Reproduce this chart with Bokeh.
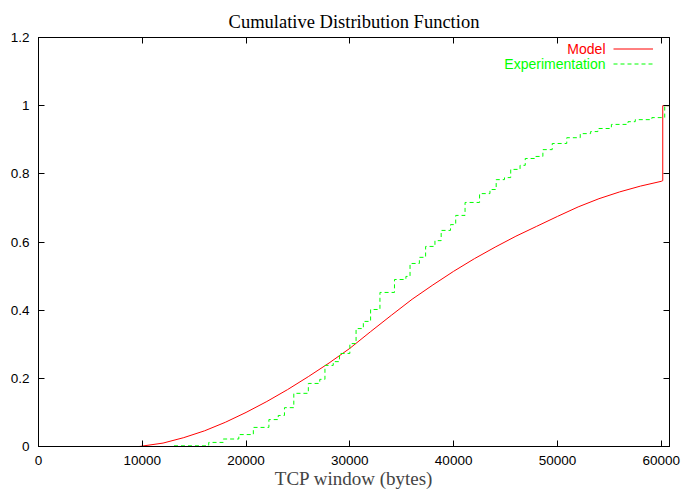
from bokeh.plotting import figure
from bokeh.models import (Range1d, LinearAxis, FixedTicker, Legend, LegendItem, Label)
from bokeh.embed import file_html
from bokeh.resources import INLINE

# ---- data ----
model_x = [3000, 9700, 12000, 14000, 16000, 18000, 20000, 22000, 24000, 26000,
           28000, 30000, 32000, 34000, 36000, 38000, 40000, 42000, 44000, 46000,
           48000, 50000, 52000, 54000, 56000, 58000, 60000, 60150, 60150, 60800]
model_y = [0, 0, 0.010, 0.026, 0.046, 0.071, 0.100, 0.132, 0.167, 0.205,
           0.245, 0.288, 0.337, 0.385, 0.432, 0.474, 0.514, 0.551, 0.585, 0.617,
           0.646, 0.675, 0.703, 0.727, 0.747, 0.764, 0.778, 0.780, 1.0, 1.0]

exp_x = [3000, 13000, 16400, 17800, 19300, 20700, 22200, 23100, 23700, 24600,
         26000, 27100, 27600, 28400, 29000, 30000, 30600, 31300, 32000, 32900,
         34300, 35400, 35800, 36700, 37300, 38200, 38800, 39700, 40200, 41100,
         42500, 43500, 44100, 44900, 45500, 46400, 46900, 47900, 48600, 49500,
         50900, 52200, 53200, 53900, 55200, 56800, 57500, 59100, 60340, 60800]
exp_y = [0, 0.002, 0.012, 0.022, 0.035, 0.056, 0.079, 0.091, 0.114, 0.156,
         0.185, 0.197, 0.238, 0.249, 0.273, 0.302, 0.346, 0.367, 0.402, 0.452,
         0.490, 0.499, 0.537, 0.555, 0.587, 0.604, 0.634, 0.651, 0.678, 0.716,
         0.742, 0.754, 0.783, 0.789, 0.813, 0.825, 0.845, 0.851, 0.871, 0.889,
         0.906, 0.918, 0.924, 0.933, 0.945, 0.953, 0.959, 0.965, 1.0, 1.0]

x_ticks = [0, 10000, 20000, 30000, 40000, 50000, 60000]
x_tick_labels = ["0", "10000", "20000", "30000", "40000", "50000", "60000"]
y_ticks = [0, 0.2, 0.4, 0.6, 0.8, 1.0, 1.2]
y_tick_labels = ["0", "0.2", "0.4", "0.6", "0.8", "1", "1.2"]

title_text = "Cumulative Distribution Function"
x_label = "TCP window (bytes)"
series_names = ["Model", "Experimentation"]

SANS = "Liberation Sans"
SERIF = "Liberation Serif"
RED = "#ff0000"
GREEN = "#00ff00"

p = figure(frame_width=631, frame_height=409, output_backend="svg",
           toolbar_location=None, x_range=Range1d(0, 60800), y_range=Range1d(0, 1.2),
           min_border_left=38, min_border_right=15, min_border_top=37, min_border_bottom=49)
p.grid.visible = False
p.outline_line_color = "black"
p.background_fill_color = "white"
p.border_fill_color = "white"

p.title.text = title_text
p.title.align = "center"
p.title.vertical_align = "middle"
p.title.text_font = SERIF
p.title.text_font_style = "normal"
p.title.text_font_size = "18.5px"
p.title.text_color = "black"
p.title.standoff = 10
p.title.offset = 0


def style_axis(ax, ticks, labels, show_labels=True):
    ax.ticker = FixedTicker(ticks=ticks)
    ax.major_tick_in = 6
    ax.major_tick_out = 0
    ax.minor_tick_in = 0
    ax.minor_tick_out = 0
    ax.axis_line_color = "black"
    ax.major_tick_line_color = "black"
    ax.major_label_text_font = SANS
    ax.major_label_text_font_size = "13.5px"
    ax.major_label_text_color = "black"
    if show_labels:
        ax.major_label_overrides = {t: l for t, l in zip(ticks, labels)}
    else:
        ax.major_label_overrides = {t: "" for t in ticks}
        ax.major_label_standoff = 0


style_axis(p.xaxis[0], x_ticks, x_tick_labels)
style_axis(p.yaxis[0], y_ticks, y_tick_labels)
p.xaxis[0].major_label_standoff = 9
p.yaxis[0].major_label_standoff = 9
p.xaxis[0].axis_label = x_label
p.xaxis[0].axis_label_text_font = SERIF
p.xaxis[0].axis_label_text_font_style = "normal"
p.xaxis[0].axis_label_text_font_size = "19px"
p.xaxis[0].axis_label_standoff = 0

top_ax = LinearAxis()
style_axis(top_ax, x_ticks, x_tick_labels, show_labels=False)
p.add_layout(top_ax, "above")
right_ax = LinearAxis()
style_axis(right_ax, y_ticks, y_tick_labels, show_labels=False)
p.add_layout(right_ax, "right")

r_model = p.line(model_x, model_y, line_color=RED, line_width=1)
r_exp = p.step(exp_x, exp_y, mode="after", line_color=GREEN, line_width=1,
               line_dash="4 3")

# legend samples (gnuplot style: text on the left, sample on the right)
legend = Legend(items=[LegendItem(label=series_names[0], renderers=[r_model]),
                       LegendItem(label=series_names[1], renderers=[r_exp])],
                location=(575, 375), orientation="vertical",
                glyph_width=40, glyph_height=15, label_width=0, label_standoff=0,
                label_text_font_size="1px", label_text_alpha=0,
                spacing=0, padding=0, margin=0,
                border_line_color=None, background_fill_alpha=0)
p.add_layout(legend)

p.add_layout(Label(x=567, y=398, x_units="screen", y_units="screen", text=series_names[0],
                   text_align="right", text_baseline="middle", text_font=SANS,
                   text_font_size="14px", text_color=RED))
p.add_layout(Label(x=567, y=383, x_units="screen", y_units="screen", text=series_names[1],
                   text_align="right", text_baseline="middle", text_font=SANS,
                   text_font_size="14px", text_color=GREEN))

open("out.html", "w").write(file_html(p, INLINE))
